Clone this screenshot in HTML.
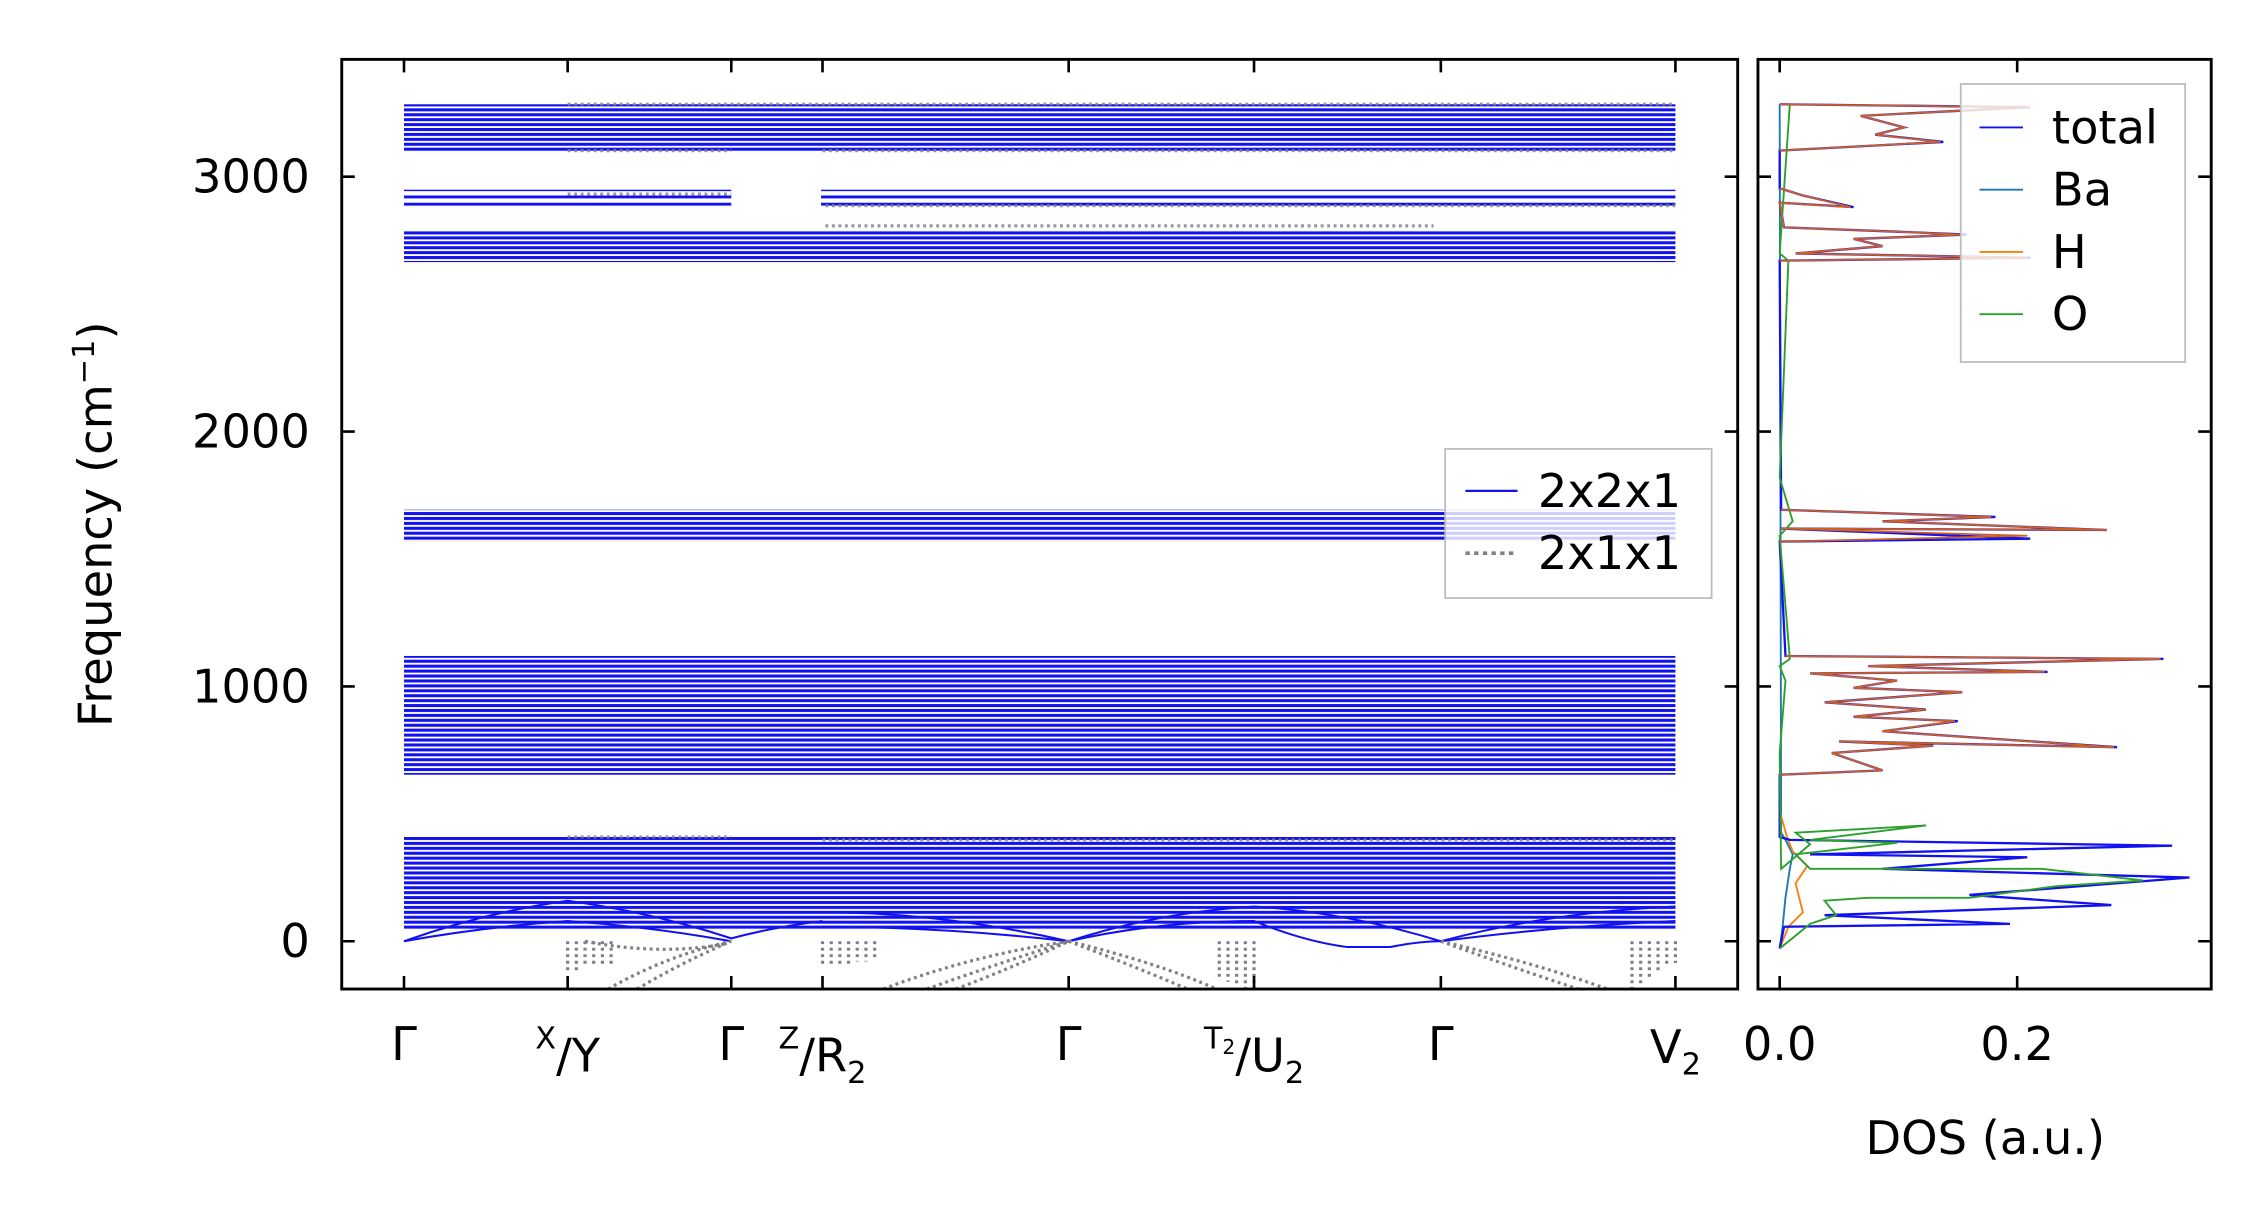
<!DOCTYPE html>
<html><head><style>html,body{margin:0;padding:0;background:#fff}svg{display:block}</style></head>
<body>
<svg width="2259" height="1220" viewBox="0 0 1560 842.5" preserveAspectRatio="none" xmlns="http://www.w3.org/2000/svg" font-family="'DejaVu Sans','Liberation Sans',sans-serif">
<defs>
<pattern id="st" width="10" height="3.4" patternUnits="userSpaceOnUse"><rect width="10" height="3.4" fill="#fff"/><rect y="0" width="10" height="2.1" fill="#1212f0"/></pattern>
<pattern id="st2" width="10" height="5" patternUnits="userSpaceOnUse"><rect width="10" height="5" fill="#fff"/><rect y="0" width="10" height="2" fill="#1212f0"/></pattern>
</defs>
<rect width="1560" height="843" fill="#fff"/>
<g>
<rect x="279" y="72" width="878" height="33" fill="url(#st)"/>
<rect x="279" y="131" width="878" height="14" fill="url(#st2)"/>
<rect x="279" y="159" width="878" height="22" fill="url(#st)"/>
<rect x="279" y="352" width="878" height="22" fill="url(#st)"/>
<rect x="279" y="453" width="878" height="82" fill="url(#st)"/>
<rect x="279" y="578" width="878" height="64" fill="url(#st)"/>
</g>
<rect x="505" y="128" width="62" height="20" fill="#fff"/>
<rect x="279" y="146" width="290" height="12" fill="#fff"/>
<g fill="none" stroke="#808080" stroke-width="2.2" stroke-dasharray="2,2.5" opacity="0.8">
<path d="M392,134 H505 M570,142 H1157 M570,156 H990 M392,104 H505 M568,104 H1157 M392,72 H1157 M568,580 H1157 M392,578 H505"/>
</g>
<g fill="none" stroke="#1212f0" stroke-width="1.4">
<path d="M279,650 Q335,630 392,622 Q450,630 505,648 Q535,640 568,636"/>
<path d="M279,650 Q335,640 392,636 Q450,640 505,650"/>
<path d="M568,640 Q650,640 738,650 Q800,636 866,636 Q900,650 930,654 L960,654 Q980,650 995,650 Q1070,640 1157,636"/>
<path d="M568,630 Q650,630 738,650 Q800,630 866,626 Q930,630 995,650 Q1070,630 1157,626"/>
</g>
<g fill="none" stroke="#808080" stroke-width="2.2" stroke-dasharray="2,2.5">
<path d="M392,650 V670 M398,650 V670 M404,650 V668 M410,650 V668 M416,650 V666 M422,650 V666"/>
<path d="M420,683 Q460,660 505,650 M440,683 Q470,665 505,650 M404,650 Q455,660 500,652"/>
<path d="M568,650 V668 M574,650 V668 M580,650 V666 M586,650 V666 M592,650 V664 M598,650 V664 M604,650 V662"/>
<path d="M610,683 Q670,660 738,650 M640,683 Q690,665 738,650 M660,683 Q700,668 738,650"/>
<path d="M738,650 Q800,665 840,683 M738,650 Q790,670 820,683"/>
<path d="M866,650 V683 M860,650 V683 M854,650 V680 M848,650 V678 M842,650 V676"/>
<path d="M995,650 Q1060,665 1110,683 M995,650 Q1050,670 1090,683"/>
<path d="M1157,650 V665 M1151,650 V668 M1145,650 V672 M1139,650 V676 M1133,650 V680 M1127,650 V683"/>
</g>
<rect x="236" y="41" width="964" height="642" fill="none" stroke="#000" stroke-width="2"/>
<g stroke="#000" stroke-width="1.8">
<path d="M236,122h9M236,298h9M236,474h9M236,650h9M1200,122h-9M1200,298h-9M1200,474h-9M1200,650h-9"/>
<path d="M279,41v9M392,41v9M505,41v9M568,41v9M738,41v9M866,41v9M995,41v9M1157,41v9M279,683v-9M392,683v-9M505,683v-9M568,683v-9M738,683v-9M866,683v-9M995,683v-9M1157,683v-9"/>
</g>
<g font-size="32" text-anchor="end" fill="#000">
<text x="214" y="133">3000</text><text x="214" y="309">2000</text><text x="214" y="485">1000</text><text x="214" y="661">0</text>
</g>
<text transform="translate(77,362) rotate(-90)" font-size="32" text-anchor="middle">Frequency (cm<tspan font-size="21" dy="-12">−1</tspan><tspan dy="12">)</tspan></text>
<g font-size="32" text-anchor="middle">
<text x="279" y="732">Γ</text>
<text x="392" y="740"><tspan font-size="21" dy="-16">X</tspan><tspan dy="16">/Y</tspan></text>
<text x="505" y="732">Γ</text>
<text x="568" y="740"><tspan font-size="21" dy="-16">Z</tspan><tspan dy="16">/R</tspan><tspan font-size="21" dy="8">2</tspan></text>
<text x="738" y="732">Γ</text>
<text x="866" y="740"><tspan font-size="21" dy="-16">T</tspan><tspan font-size="14" dy="4">2</tspan><tspan dy="12">/U</tspan><tspan font-size="21" dy="8">2</tspan></text>
<text x="995" y="732">Γ</text>
<text x="1157" y="734">V<tspan font-size="21" dy="8">2</tspan></text>
</g>
<rect x="998" y="310" width="184" height="103" fill="#fff" fill-opacity="0.8" stroke="#bbb" stroke-width="1.2"/>
<path d="M1012,339h36" stroke="#1212f0" stroke-width="1.5"/>
<path d="M1012,382h36" stroke="#808080" stroke-width="2.5" stroke-dasharray="3,3"/>
<g font-size="32"><text x="1062" y="350">2x2x1</text><text x="1062" y="393">2x1x1</text></g>
<g fill="none" stroke-width="1.3">
<path stroke="#1f77b4" d="M1229,655 L1231,640 1233,620 1236,600 1238,590 1233,580 1230,575 L1229,72"/>
<path stroke="#ff7f0e" d="M1229,655 L1235,640 1245,630 1240,610 1248,598 1238,588 1234,578 1229,560"/>
<path stroke="#1212f0" stroke-width="1.6" d="M1229,655 L1232,640 1388,638 1260,632 1458,625 1360,618 1512,606 1300,600 1400,592 1250,590 1500,584 1236,580 1229,578 L1229,535 1300,532 1265,520 1335,515 1270,512 1462,516 1300,505 1352,498 1280,495 1330,490 1260,485 1355,478 1280,475 1310,470 1250,465 1414,464 1290,460 1494,455 1233,453 L1229,374 1402,372 1230,365 1455,366 1300,360 1378,357 1230,352 L1229,180 1402,178 1240,175 1300,170 1280,165 1358,162 1310,160 1232,157 1229,140 1280,143 1245,135 1229,130 L1229,104 1342,98 1295,93 1315,88 1285,80 1402,74 1229,72"/>
<path stroke="#2ca02c" d="M1229,655 L1250,638 1268,632 1260,622 1290,620 1360,620 1420,612 1480,608 1410,600 1250,600 1240,590 1310,582 1250,580 1330,570 1240,575 1250,583 1230,600 1229,520 1233,470 1229,460 1236,455 1229,370 1238,360 1229,330 1235,180 1229,175 1236,72"/>
<path stroke="#d0601e" stroke-width="1.2" d="M1229,535 L1300,532 1265,520 1335,515 1270,512 1460,516 1300,505 1350,498 1280,495 1330,490 1260,485 1355,478 1280,475 1310,470 1250,465 1412,464 1290,460 1492,455 1233,453 M1229,374 L1400,370 1230,365 1455,366 1300,360 1375,357 1230,352 M1229,180 L1400,178 1240,175 1300,170 1280,165 1355,162 1310,160 1232,157 1229,140 1278,143 1245,135 1229,130 M1229,104 L1340,98 1295,93 1315,88 1285,80 1402,74 1229,72"/>
</g>
<rect x="1214" y="41" width="313" height="642" fill="none" stroke="#000" stroke-width="2"/>
<g stroke="#000" stroke-width="1.8">
<path d="M1214,122h9M1214,298h9M1214,474h9M1214,650h9M1527,122h-9M1527,298h-9M1527,474h-9M1527,650h-9"/>
<path d="M1229,41v9M1393,41v9M1229,683v-9M1393,683v-9"/>
</g>
<rect x="1354" y="58" width="155" height="192" fill="#fff" fill-opacity="0.8" stroke="#bbb" stroke-width="1.2"/>
<g stroke-width="1.3"><path d="M1367,88h30" stroke="#1212f0"/><path d="M1367,131h30" stroke="#1f77b4"/><path d="M1367,174h30" stroke="#ff7f0e"/><path d="M1367,217h30" stroke="#2ca02c"/></g>
<g font-size="32"><text x="1417" y="99">total</text><text x="1417" y="142">Ba</text><text x="1417" y="185">H</text><text x="1417" y="228">O</text></g>
<g font-size="32" text-anchor="middle"><text x="1229" y="732">0.0</text><text x="1393" y="732">0.2</text><text x="1371" y="797">DOS (a.u.)</text></g>
</svg>
</body></html>
